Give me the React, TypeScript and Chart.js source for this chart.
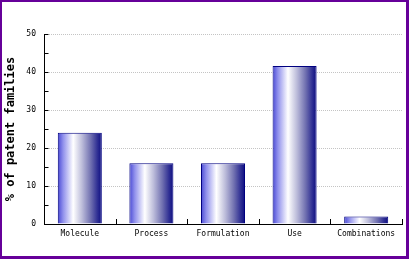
import React, { useEffect, useRef } from 'react';
import { Chart, registerables } from 'chart.js';

Chart.register(...registerables);

const categories = ['Molecule', 'Process', 'Formulation', 'Use', 'Combinations'];
const values = [24, 16, 16, 41.6, 2];
const yTickValues = [0, 10, 20, 30, 40, 50];
const yMinorTickValues = [0, 5, 10, 15, 20, 25, 30, 35, 40, 45, 50];
const yTitle = '% of patent families';

const BAR_PCT = 0.615;

const innerTicks = {
  id: 'innerTicks',
  afterDraw(chart: any) {
    const { ctx } = chart;
    const x = chart.scales.x;
    const y = chart.scales.y;
    ctx.save();
    ctx.strokeStyle = '#000';
    ctx.lineWidth = 1;
    ctx.beginPath();
    const ax = Math.round(y.right) + 0.5;
    yMinorTickValues.forEach((v) => {
      const py = Math.round(y.getPixelForValue(v)) + 0.5;
      ctx.moveTo(ax - 0.5, py);
      ctx.lineTo(ax + 4, py);
    });
    const by = Math.round(x.top);
    categories.forEach((_, i) => {
      const px = Math.round(x.getPixelForValue(i + 0.5)) + 0.5;
      ctx.moveTo(px, by);
      ctx.lineTo(px, by - 5);
    });
    ctx.stroke();
    ctx.restore();
  },
};

function barGradient(context: any) {
  const chart = context.chart;
  const xs = chart.scales && chart.scales.x;
  if (!xs || !chart.chartArea) return '#8080d0';
  const idx = context.dataIndex;
  const cx = xs.getPixelForValue(idx);
  const w = (xs.width / categories.length) * BAR_PCT;
  const g = chart.ctx.createLinearGradient(cx - w / 2, 0, cx + w / 2, 0);
  g.addColorStop(0, '#4848d4');
  g.addColorStop(0.12, '#9090ec');
  g.addColorStop(0.35, '#ffffff');
  g.addColorStop(0.55, '#bcbcda');
  g.addColorStop(0.75, '#7070b0');
  g.addColorStop(0.9, '#303094');
  g.addColorStop(1, '#0c0c80');
  return g;
}

export default function App() {
  const ref = useRef<HTMLCanvasElement | null>(null);

  useEffect(() => {
    if (!ref.current) return;
    const chart = new Chart(ref.current, {
      type: 'bar',
      data: {
        labels: categories,
        datasets: [
          {
            data: values,
            backgroundColor: barGradient,
            borderColor: '#000080',
            borderWidth: 1,
            barPercentage: BAR_PCT,
            categoryPercentage: 1,
          },
        ],
      },
      options: {
        animation: false,
        responsive: false,
        devicePixelRatio: 1,
        events: [],
        layout: { padding: { left: 0, top: 34, right: 7, bottom: 0 } },
        plugins: { legend: { display: false }, tooltip: { enabled: false } },
        scales: {
          x: {
            grid: { color: 'rgba(0,0,0,0)', drawTicks: false },
            border: { display: true, color: '#000', width: 1 },
            ticks: {
              color: '#000',
              padding: 5,
              maxRotation: 0,
              autoSkip: false,
              font: { family: 'DejaVu Sans Mono', size: 8 },
            },
            afterFit: (s: any) => {
              s.height = 35;
            },
          },
          y: {
            min: 0,
            max: 50,
            afterBuildTicks: (s: any) => {
              s.ticks = yTickValues.map((v) => ({ value: v }));
            },
            grid: {
              color: '#c4c4c4',
              drawTicks: false,
            },
            border: { display: true, color: '#000', width: 1, dash: [1, 1] },
            ticks: {
              color: '#000',
              padding: 8,
              font: { family: 'DejaVu Sans Mono', size: 8 },
            },
            title: {
              display: true,
              text: yTitle,
              color: '#000',
              font: { family: 'DejaVu Sans Mono', size: 12, weight: 'bold' },
              padding: { top: 4, bottom: 0 },
            },
            afterFit: (s: any) => {
              s.width = 44;
            },
          },
        },
      },
      plugins: [innerTicks],
    } as any);
    return () => chart.destroy();
  }, []);

  return (
    <div style={{ position: 'fixed', left: 0, top: 0, width: 409, height: 259, background: '#fff' }}>
      <canvas ref={ref} width={409} height={259} style={{ display: 'block', width: 409, height: 259 }} />
      <div
        style={{
          position: 'absolute',
          left: 0,
          top: 0,
          width: 409,
          height: 259,
          boxSizing: 'border-box',
          borderStyle: 'solid',
          borderColor: '#660099',
          borderWidth: '2px 3px 3px 2px',
          pointerEvents: 'none',
        }}
      />
    </div>
  );
}
